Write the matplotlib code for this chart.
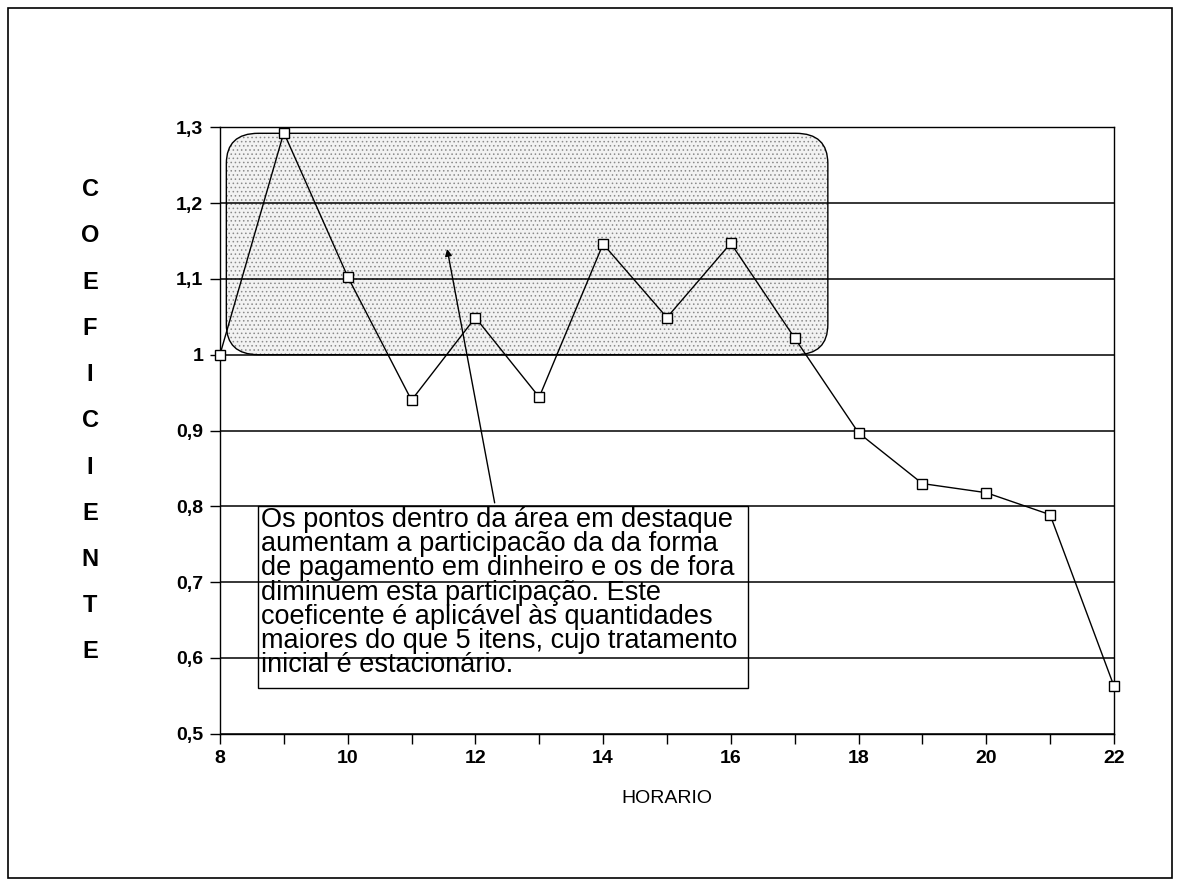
import matplotlib
matplotlib.use("Agg")
import matplotlib.pyplot as plt
from matplotlib.patches import FancyBboxPatch, Rectangle

# ── Data ─────────────────────────────────────────────
horario = [8, 9, 10, 11, 12, 13, 14, 15, 16, 17, 18, 19, 20, 21, 22]
coeficiente = [1.0, 1.293, 1.103, 0.940, 1.049, 0.944, 1.146, 1.049, 1.147,
               1.022, 0.897, 0.830, 0.818, 0.789, 0.563]
y_ticks = [0.5, 0.6, 0.7, 0.8, 0.9, 1.0, 1.1, 1.2, 1.3]
y_labels = ["0,5", "0,6", "0,7", "0,8", "0,9", "1", "1,1", "1,2", "1,3"]
x_ticks = [8, 10, 12, 14, 16, 18, 20, 22]
nota = ("Os pontos dentro da área em destaque\n"
        "aumentam a participacão da da forma\n"
        "de pagamento em dinheiro e os de fora\n"
        "diminuem esta participação. Este\n"
        "coeficente é aplicável às quantidades\n"
        "maiores do que 5 itens, cujo tratamento\n"
        "inicial é estacionário.")

plt.rcParams["hatch.linewidth"] = 0.6
plt.rcParams["font.family"] = ["Liberation Sans", "DejaVu Sans"]

fig = plt.figure(figsize=(11.8, 8.86), dpi=100)
ax = fig.add_axes([0.1864, 0.1718, 0.7576, 0.6846])

# ── Highlight area (dotted fill + rounded outline) ──
box_kw = dict(boxstyle="round,pad=0.5,rounding_size=0.5", mutation_aspect=0.08)
x0, x1, y0, y1 = 8.1, 17.52, 1.0, 1.292
ax.add_patch(FancyBboxPatch((x0 + 0.5, y0 + 0.04), x1 - x0 - 1.0, y1 - y0 - 0.08,
                            facecolor="#f2f2f2", edgecolor="#8a8a8a", hatch="....",
                            linewidth=0, zorder=1, **box_kw))
ax.add_patch(FancyBboxPatch((x0 + 0.5, y0 + 0.04), x1 - x0 - 1.0, y1 - y0 - 0.08,
                            facecolor="none", edgecolor="black",
                            linewidth=1.0, zorder=1.5, **box_kw))

# ── Grid ─────────────────────────────────────────────
for y in y_ticks:
    ax.axhline(y, color="black", linewidth=1.1, zorder=2)

# ── Series ───────────────────────────────────────────
ax.plot(horario, coeficiente, color="black", linewidth=1.0, marker="s",
        markersize=7, markerfacecolor="white", markeredgecolor="black",
        markeredgewidth=1.0, zorder=5, clip_on=False)

# ── Annotation arrow + note ──────────────────────────
ax.annotate("", xy=(11.55, 1.143), xytext=(12.31, 0.801),
            arrowprops=dict(arrowstyle="-|>", color="black", lw=1.0,
                            mutation_scale=10), zorder=4)
ax.add_patch(Rectangle((8.6, 0.56), 16.27 - 8.6, 0.801 - 0.56,
                       facecolor="none", edgecolor="black", linewidth=1.0, zorder=3))
ax.text(8.64, 0.799, nota, ha="left", va="top", fontsize=19.5,
        linespacing=0.91, zorder=6)

# ── Axes ─────────────────────────────────────────────
ax.set_xlim(8, 22)
ax.set_ylim(0.5, 1.3)
ax.set_xticks(x_ticks)
ax.set_xticks(range(8, 23), minor=True)
ax.set_yticks(y_ticks)
ax.set_yticklabels(y_labels)
ax.tick_params(axis="both", which="major", direction="out", length=7,
               width=1.0, labelsize=14, pad=5)
ax.tick_params(axis="x", which="minor", direction="out", length=7, width=1.0)
for lab in ax.get_xticklabels() + ax.get_yticklabels():
    lab.set_fontweight("bold")
for s in ax.spines.values():
    s.set_linewidth(1.0)

ax.set_xlabel("HORARIO", fontsize=14, labelpad=16)
fig.text(0.0763, 0.525, "\n".join("COEFICIENTE"), ha="center", va="center",
         fontsize=17, fontweight="bold", linespacing=2.29)

# ── Outer frame ──────────────────────────────────────
fig.patches.append(Rectangle((0.007, 0.009), 0.986, 0.982, transform=fig.transFigure,
                             fill=False, edgecolor="black", linewidth=1.2))

fig.savefig("out.png", dpi=100)
